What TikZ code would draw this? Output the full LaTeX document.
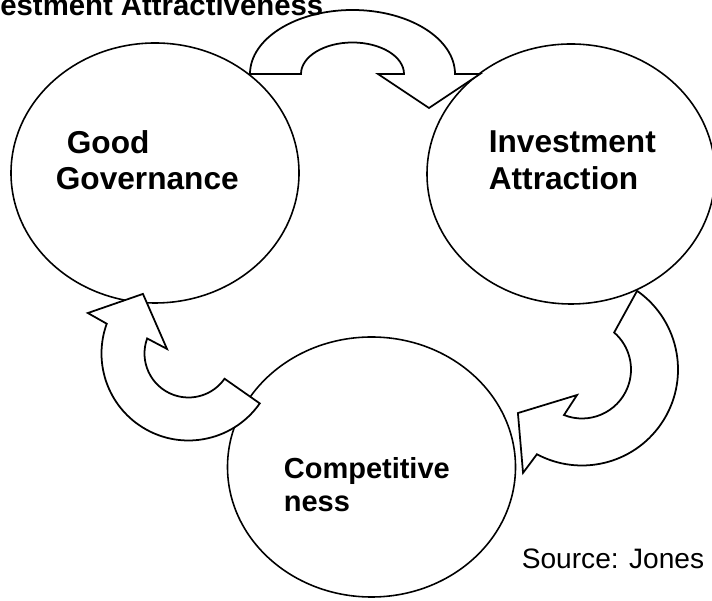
\documentclass[tikz,border=0pt]{standalone}
\usepackage{fontspec}
\setmainfont{Liberation Sans}
\usetikzlibrary{positioning}
\tikzset{
    bubble/.style={line width=0.9pt},
    bentarrow/.style={draw,fill=white,line width=1pt,line join=miter},
    bigtxt/.style={font=\fontsize{18}{21}\selectfont\bfseries,align=left,inner sep=0pt,anchor=base west},
    smalltxt/.style={font=\fontsize{16.5}{18.8}\selectfont\bfseries,align=left,inner sep=0pt,anchor=base west},
}

\begin{document}
\begin{tikzpicture}
\useasboundingbox (0,0) rectangle (14.24,12.02);

\foreach \x/\y in {3.10/8.56,11.42/8.54,7.43/2.68}
    \draw[bubble](\x,\y) ellipse (2.88 and 2.6);

% top arrow
\begin{scope}[shift={(7.05,10.54)}]
\draw[bentarrow](-2.05,0) arc[start angle=180,end angle=0,x radius=2.05,y radius=1.28]
    --(2.55,0)--(1.53,-0.68)--(0.51,0)--(1.03,0)
    arc[start angle=0,end angle=180,x radius=1.03,y radius=0.63]--cycle;
\end{scope}

% right arrow
\begin{scope}[shift={(11.64,4.63)}]
\draw[bentarrow](55:1.92) arc[start angle=55,end angle=-118,radius=1.92]
    --(-119.7:2.38)--(-145.8:1.55)--(-101:0.52)--(-111.6:0.98)
    arc[start angle=-111.6,end angle=49,radius=0.98]--cycle;
\end{scope}

% left arrow
\begin{scope}[shift={(3.77,4.95)}]
\draw[bentarrow](-35:1.74) arc[start angle=-35,end angle=-200,radius=1.74]
    --(158.1:2.17)--(127.4:1.5)--(168:0.44)--(160:0.88)
    arc[start angle=160,end angle=325,radius=0.88]--cycle;
\end{scope}

% labels sit on the baseline of their last line
\draw(1.11,8.22) node[bigtxt](gov){\hspace*{0.22cm}Good\\Governance};
\draw(9.77,8.23) node[bigtxt](inv){Investment\\Attraction};
\draw(5.67,1.78) node[smalltxt](comp){Competitive\\ness};

\draw(10.43,0.64) node[font=\fontsize{16}{18.5}\selectfont,inner sep=0pt,anchor=base west](src){Source: Jones};
\draw(0,11.71) node[font=\fontsize{16.7}{19}\selectfont\bfseries,inner sep=0pt,anchor=base west](ttl){estment Attractiveness};

\end{tikzpicture}
\end{document}
